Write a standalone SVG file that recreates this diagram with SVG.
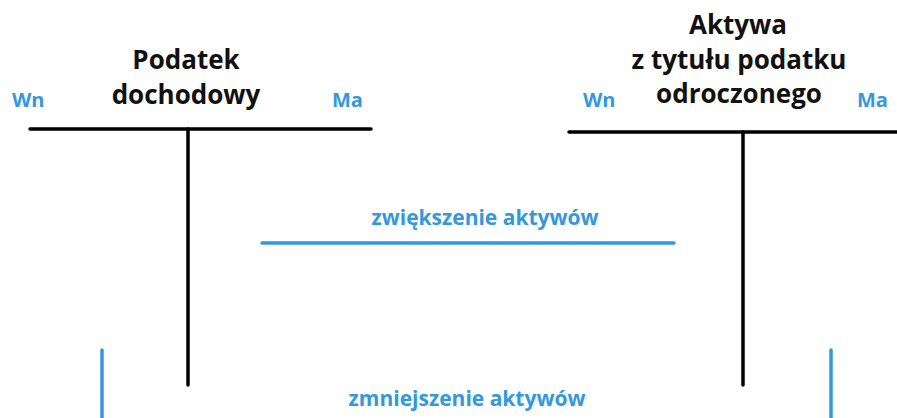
<svg xmlns="http://www.w3.org/2000/svg" width="897" height="418" viewBox="0 0 897 418">
<style>
.title{font-family:"Open Sans","Noto Sans",sans-serif;font-weight:bold;font-size:26px;fill:#111;text-anchor:middle}
.side{font-family:"Open Sans","Noto Sans",sans-serif;font-weight:bold;font-size:20px;fill:#3498db}
.lbl{font-family:"Open Sans","Noto Sans",sans-serif;font-weight:bold;font-size:21px;fill:#3498db;text-anchor:middle}
.blk{stroke:#000;stroke-width:3.5;stroke-linecap:round;fill:none}
.blu{stroke:#3498db;stroke-width:3.5;stroke-linecap:round;fill:none}
</style>
<rect width="897" height="418" fill="#fff"/>
<g id="account-podatek-dochodowy">
<text class="title" x="186" y="69">Podatek</text>
<text class="title" x="186" y="104">dochodowy</text>
<text class="side" x="12" y="107">Wn</text>
<text class="side" x="332" y="107">Ma</text>
<line class="blk" x1="30" y1="129" x2="371" y2="129"/>
<line class="blk" x1="188" y1="129" x2="188" y2="385"/>
</g>
<g id="account-aktywa">
<text class="title" x="738" y="34">Aktywa</text>
<text class="title" x="739" y="69">z tytułu podatku</text>
<text class="title" x="739" y="103">odroczonego</text>
<text class="side" x="583" y="107">Wn</text>
<text class="side" x="857" y="107">Ma</text>
<line class="blk" x1="569" y1="132" x2="897" y2="132"/>
<line class="blk" x1="743" y1="132" x2="743" y2="385"/>
</g>
<g id="connectors">
<text class="lbl" x="485" y="225">zwiększenie aktywów</text>
<line class="blu" x1="262" y1="243" x2="674" y2="243"/>
<line class="blu" x1="102" y1="350" x2="102" y2="420"/>
<line class="blu" x1="831" y1="350" x2="831" y2="420"/>
<text class="lbl" x="467" y="406">zmniejszenie aktywów</text>
</g>
</svg>
